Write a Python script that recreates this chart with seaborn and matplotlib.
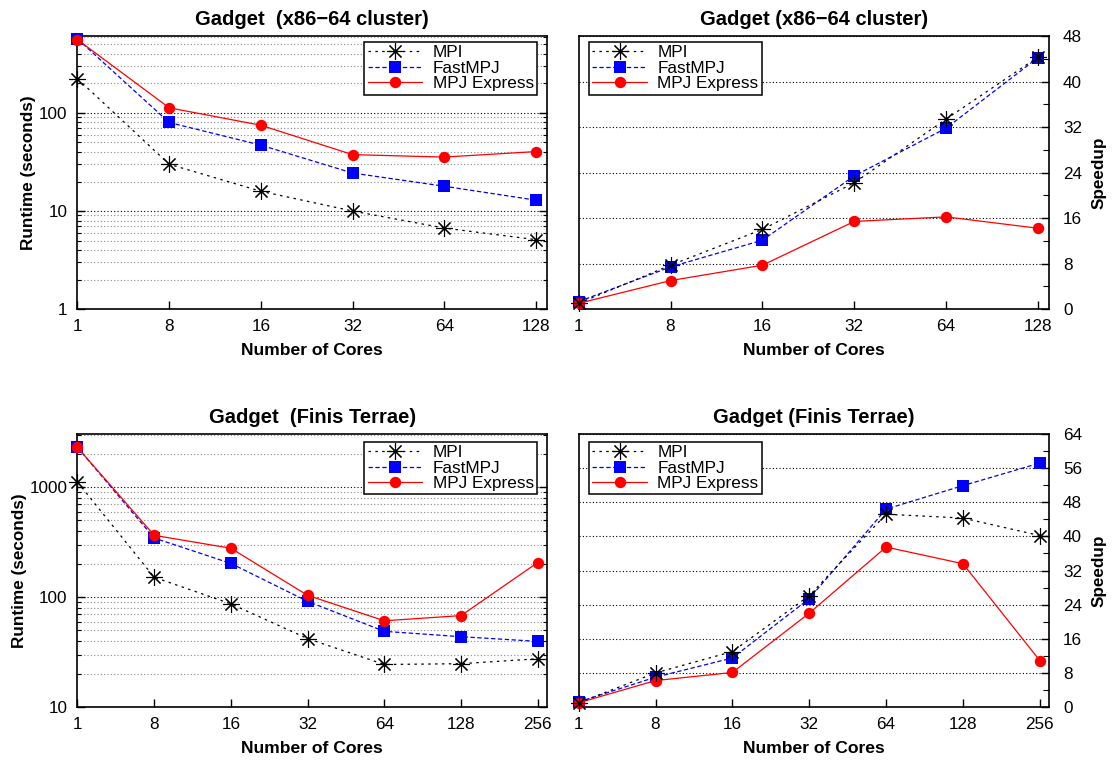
import numpy as np
import matplotlib
matplotlib.use("Agg")
import matplotlib.pyplot as plt
import seaborn as sns
from matplotlib.ticker import FixedLocator, LogLocator, NullFormatter, MultipleLocator

# core counts (equally spaced categories on the x axis)
cores_x86 = ["1", "8", "16", "32", "64", "128"]
cores_ft = ["1", "8", "16", "32", "64", "128", "256"]

# runtimes (seconds), x86-64 cluster
rt_x86_mpi = [224, 30, 15.9, 10, 6.7, 5.1]
rt_x86_fast = [570, 80, 47, 24.4, 17.9, 12.9]
rt_x86_mpje = [560, 113, 75, 37.6, 35.5, 40.4]

# speedups, x86-64 cluster
sp_x86_mpi = [1.0, 7.7, 14.0, 22.2, 33.4, 44.3]
sp_x86_fast = [1.3, 7.4, 12.1, 23.4, 31.8, 44.2]
sp_x86_mpje = [1.0, 5.0, 7.7, 15.4, 16.2, 14.2]

# runtimes (seconds), Finis Terrae
rt_ft_mpi = [1118, 152, 87, 42, 24.4, 24.8, 27.5]
rt_ft_fast = [2310, 346, 203, 91.6, 48.9, 43.7, 39.6]
rt_ft_mpje = [2310, 366, 279, 104, 61, 68, 207]

# speedups, Finis Terrae
sp_ft_mpi = [1.0, 8.0, 13.0, 26.1, 45.2, 44.3, 40.2]
sp_ft_fast = [1.2, 7.0, 11.5, 25.4, 46.4, 51.9, 57.2]
sp_ft_mpje = [1.0, 6.2, 8.1, 22.0, 37.5, 33.6, 10.9]

names = ["MPI", "FastMPJ", "MPJ Express"]

sns.set_theme(style="white")
plt.rcParams["font.family"] = ["Liberation Sans", "DejaVu Sans"]
plt.rcParams["axes.edgecolor"] = "black"
plt.rcParams["axes.linewidth"] = 1.2
plt.rcParams["text.color"] = "black"
plt.rcParams["axes.labelcolor"] = "black"
plt.rcParams["axes.titlecolor"] = "black"
plt.rcParams["xtick.color"] = "black"
plt.rcParams["ytick.color"] = "black"

styles = {
    "MPI": dict(color="black", marker=(8, 2, 0), markersize=12, markeredgewidth=0.8,
                linestyle=(0, (2, 3.5)), zorder=5),
    "FastMPJ": dict(color="#0000ff", marker="s", markersize=8.6, markeredgewidth=0,
                    linestyle=(0, (3.5, 2)), zorder=3),
    "MPJ Express": dict(color="#ff0000", marker="o", markersize=8.2, markeredgewidth=0,
                        linestyle="-", zorder=4),
}


def draw(ax, cores, series, title, log, ymax, legend_loc, legend_anchor):
    pos = np.arange(len(cores))
    handles = {}
    for name, vals in zip(names, series):
        st = styles[name]
        sns.lineplot(x=pos, y=vals, ax=ax, color=st["color"], marker=st["marker"],
                     markersize=st["markersize"], markeredgecolor=st["color"],
                     markeredgewidth=st["markeredgewidth"], linestyle=st["linestyle"],
                     linewidth=0.9, zorder=st["zorder"], errorbar=None)
        ln = ax.lines[-1]
        ln.set_clip_on(False)
        handles[name] = ln
    ax.set_xlim(0, len(cores) - 1 + 0.12)
    ax.set_xticks(pos)
    ax.set_xticklabels(cores)
    ax.tick_params(axis="x", direction="in", length=6, width=1, bottom=True, top=False,
                   pad=7.5, labelsize=12.3)
    if log:
        ax.set_yscale("log")
        lo = 1 if ymax < 1000 else 10
        ax.set_ylim(lo, ymax)
        major = [10 ** k for k in range(0, 5) if lo <= 10 ** k <= ymax]
        ax.yaxis.set_major_locator(FixedLocator(major))
        ax.set_yticklabels([str(m) for m in major])
        ax.yaxis.set_minor_locator(LogLocator(base=10, subs=np.arange(2, 10)))
        ax.yaxis.set_minor_formatter(NullFormatter())
        ax.tick_params(axis="y", which="major", direction="in", length=6, width=1,
                       left=True, right=True, pad=7, labelsize=12.3)
        ax.tick_params(axis="y", which="minor", direction="in", length=3, width=0.8,
                       left=True, right=True)
        ax.grid(True, axis="y", which="major", color="black", linestyle=(0, (1, 2)), linewidth=0.8)
        ax.grid(True, axis="y", which="minor", color="#8a8a8a", linestyle=(0, (1, 2)), linewidth=0.8)
        ax.set_ylabel("Runtime (seconds)", fontsize=12.3, fontweight="bold", labelpad=2)
    else:
        ax.set_ylim(0, ymax)
        ax.yaxis.set_major_locator(MultipleLocator(8))
        ax.yaxis.set_minor_locator(MultipleLocator(4))
        ax.yaxis.tick_right()
        ax.yaxis.set_label_position("right")
        ax.tick_params(axis="y", which="major", direction="in", length=6, width=1,
                       left=False, right=True, labelleft=False, labelright=True,
                       pad=10, labelsize=12.3)
        ax.tick_params(axis="y", which="minor", direction="in", length=4, width=0.8,
                       left=False, right=True)
        ax.grid(True, axis="y", which="major", color="black", linestyle=(0, (1, 2)), linewidth=0.8)
        ax.set_ylabel("Speedup", fontsize=12.3, fontweight="bold", labelpad=7)
    ax.grid(False, axis="x")
    ax.set_axisbelow(True)
    ax.set_xlabel("Number of Cores", fontsize=12.6, fontweight="bold", labelpad=6)
    ax.set_title(title, fontsize=14.5, fontweight="bold", pad=8)
    leg = ax.legend([handles[n] for n in names], names, loc=legend_loc,
                    bbox_to_anchor=legend_anchor, borderaxespad=0, fontsize=12.3,
                    frameon=True, fancybox=False, framealpha=1, edgecolor="black",
                    handlelength=3.2, handletextpad=0.6, labelspacing=0.02,
                    borderpad=0.2)
    leg.get_frame().set_linewidth(1.1)
    leg.set_zorder(10)


fig = plt.figure(figsize=(11.13, 7.6), dpi=100)
ax_tl = fig.add_axes([0.0696, 0.5934, 0.4218, 0.3592])
ax_tr = fig.add_axes([0.5199, 0.5934, 0.4226, 0.3592])
ax_bl = fig.add_axes([0.0696, 0.0697, 0.4218, 0.3592])
ax_br = fig.add_axes([0.5199, 0.0697, 0.4226, 0.3592])

draw(ax_tl, cores_x86, [rt_x86_mpi, rt_x86_fast, rt_x86_mpje],
     "Gadget  (x86\u221264 cluster)", True, 610, "upper right", (0.979, 0.978))
draw(ax_tr, cores_x86, [sp_x86_mpi, sp_x86_fast, sp_x86_mpje],
     "Gadget (x86\u221264 cluster)", False, 48, "upper left", (0.022, 0.978))
draw(ax_bl, cores_ft, [rt_ft_mpi, rt_ft_fast, rt_ft_mpje],
     "Gadget  (Finis Terrae)", True, 3060, "upper right", (0.979, 0.971))
draw(ax_br, cores_ft, [sp_ft_mpi, sp_ft_fast, sp_ft_mpje],
     "Gadget (Finis Terrae)", False, 64, "upper left", (0.022, 0.971))

fig.savefig("out.png", dpi=100, facecolor="white")
